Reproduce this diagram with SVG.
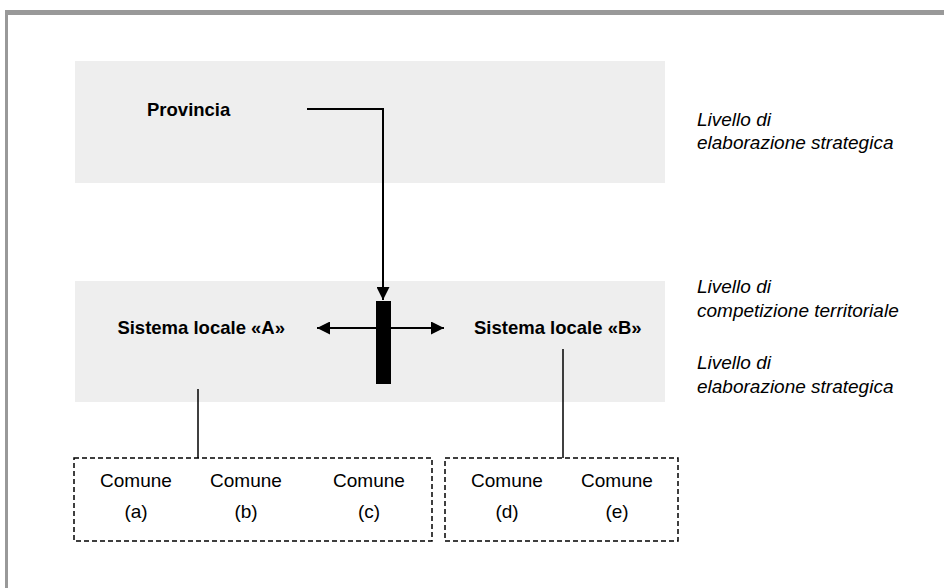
<svg xmlns="http://www.w3.org/2000/svg" width="944" height="588" viewBox="0 0 944 588">
<defs>
<style>
.band{fill:#eeeeee}
.b{font-family:"Liberation Sans",Arial,sans-serif;font-weight:bold;font-size:18.5px;fill:#000}
.r{font-family:"Liberation Sans",Arial,sans-serif;font-size:19px;fill:#000;text-anchor:middle}
.i{font-family:"Liberation Sans",Arial,sans-serif;font-style:italic;font-size:19px;fill:#000}
.ln{stroke:#000;stroke-width:2;fill:none}
.th{stroke:#000;stroke-width:1.5;fill:none}
.dash{stroke:#000;stroke-width:1.5;fill:none;stroke-dasharray:5,3}
</style>
<marker id="ah" viewBox="0 0 10 10" refX="10" refY="5" markerWidth="13" markerHeight="13" markerUnits="userSpaceOnUse" orient="auto">
<path d="M0,0 L10,5 L0,10 z" fill="#000"/>
</marker>
</defs>
<rect x="0" y="0" width="944" height="588" fill="#fff"/>
<rect x="5" y="10" width="939" height="5" fill="#999"/>
<rect x="5" y="10" width="3" height="578" fill="#999"/>
<g id="band-top"><rect class="band" x="75" y="61" width="590" height="122"/></g>
<g id="band-mid"><rect class="band" x="75" y="281" width="590" height="121"/></g>
<g id="provincia"><text class="b" x="147" y="116">Provincia</text></g>
<g id="sistema-a"><text class="b" x="285" y="334" text-anchor="end">Sistema locale «A»</text></g>
<g id="sistema-b"><text class="b" x="474" y="334">Sistema locale «B»</text></g>
<g id="barrier"><rect x="376" y="301" width="15" height="83" fill="#000"/></g>
<g id="box-left">
<rect class="dash" x="74" y="458" width="358" height="83"/>
<text class="r" x="136" y="487">Comune</text><text class="r" x="136" y="518">(a)</text>
<text class="r" x="246" y="487">Comune</text><text class="r" x="246" y="518">(b)</text>
<text class="r" x="369" y="487">Comune</text><text class="r" x="369" y="518">(c)</text>
</g>
<g id="box-right">
<rect class="dash" x="445" y="458" width="233" height="83"/>
<text class="r" x="507" y="487">Comune</text><text class="r" x="507" y="518">(d)</text>
<text class="r" x="617" y="487">Comune</text><text class="r" x="617" y="518">(e)</text>
</g>
<g id="labels">
<text class="i" x="697" y="126">Livello di</text>
<text class="i" x="697" y="149">elaborazione strategica</text>
<text class="i" x="697" y="293">Livello di</text>
<text class="i" x="697" y="317">competizione territoriale</text>
<text class="i" x="697" y="369">Livello di</text>
<text class="i" x="697" y="393">elaborazione strategica</text>
</g>
<g id="connectors">
<path class="ln" d="M307,109 H383 V300" marker-end="url(#ah)"/>
<path class="ln" d="M376,328 H317" marker-end="url(#ah)"/>
<path class="ln" d="M391,328 H444" marker-end="url(#ah)"/>
<path class="th" d="M198,389 V458"/>
<path class="th" d="M563,349 V458"/>
</g>
</svg>
